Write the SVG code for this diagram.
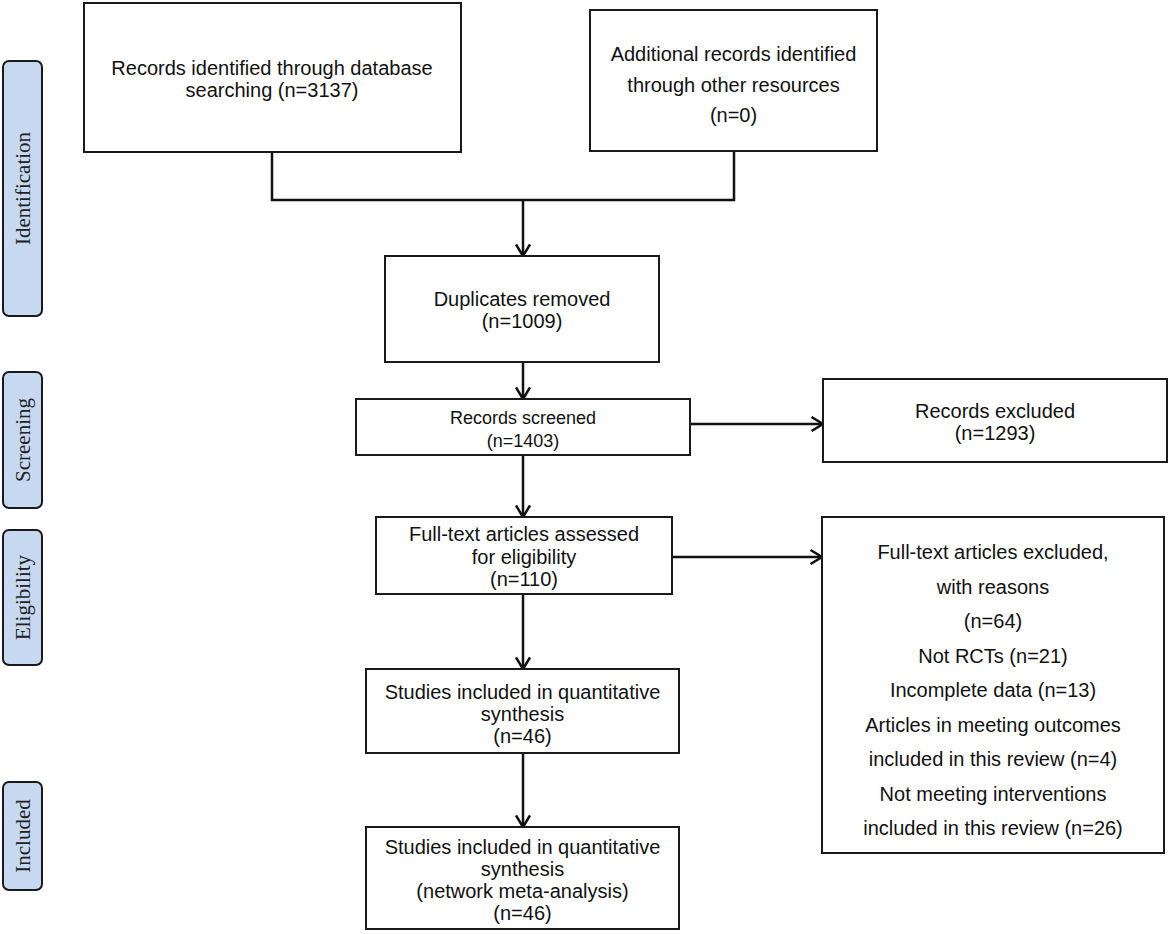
<svg xmlns="http://www.w3.org/2000/svg" width="1170" height="934" viewBox="0 0 1170 934">
  <style>
    .box { fill: #ffffff; stroke: #1a1a1a; stroke-width: 2; }
    .stage { fill: #c6d9f1; stroke: #1a1a1a; stroke-width: 2; }
    .t { font-family: "Liberation Sans", Arial, sans-serif; font-size: 20px; fill: #111; text-anchor: middle; }
    .ta { font-family: "Liberation Sans", Arial, sans-serif; font-size: 18px; fill: #111; text-anchor: middle; }
    .st { font-family: "Liberation Serif", "Times New Roman", serif; font-size: 21px; fill: #222; text-anchor: middle; }
    .ln { fill: none; stroke: #111; stroke-width: 2.5; }
  </style>
  <defs>
    <marker id="arr" viewBox="0 0 16 16" refX="13" refY="8" markerWidth="16" markerHeight="16" orient="auto" markerUnits="userSpaceOnUse">
      <path d="M1.5,1 L13,8 L1.5,15" fill="none" stroke="#111" stroke-width="2.5"/>
    </marker>
  </defs>
  <rect width="1170" height="934" fill="#ffffff"/>

  <g id="stage-identification">
    <rect class="stage" x="3" y="61" width="39" height="255" rx="6"/>
    <text class="st" transform="translate(30,188.5) rotate(-90)">Identification</text>
  </g>
  <g id="stage-screening">
    <rect class="stage" x="3" y="372" width="39" height="136" rx="6"/>
    <text class="st" transform="translate(30,440) rotate(-90)">Screening</text>
  </g>
  <g id="stage-eligibility">
    <rect class="stage" x="3" y="530" width="39" height="135" rx="6"/>
    <text class="st" transform="translate(30,597.5) rotate(-90)">Eligibility</text>
  </g>
  <g id="stage-included">
    <rect class="stage" x="3" y="782" width="39" height="108" rx="6"/>
    <text class="st" transform="translate(30,836) rotate(-90)">Included</text>
  </g>

  <g id="connectors">
    <polyline class="ln" points="272,152 272,200 734,200 734,151"/>
    <line class="ln" x1="523" y1="200" x2="523" y2="256" marker-end="url(#arr)"/>
    <line class="ln" x1="523" y1="362" x2="523" y2="399" marker-end="url(#arr)"/>
    <line class="ln" x1="523" y1="455" x2="523" y2="517" marker-end="url(#arr)"/>
    <line class="ln" x1="690" y1="424" x2="823" y2="424" marker-end="url(#arr)"/>
    <line class="ln" x1="672" y1="557" x2="822" y2="557" marker-end="url(#arr)"/>
    <line class="ln" x1="523" y1="594" x2="523" y2="669" marker-end="url(#arr)"/>
    <line class="ln" x1="523" y1="753" x2="523" y2="827" marker-end="url(#arr)"/>
  </g>

  <g id="node-database">
    <rect class="box" x="84" y="3" width="377" height="149"/>
    <text class="t" x="272" y="75">Records identified through database</text>
    <text class="t" x="272" y="97">searching (n=3137)</text>
  </g>
  <g id="node-additional">
    <rect class="box" x="590" y="10" width="287" height="141"/>
    <text class="t" x="733.5" y="61">Additional records identified</text>
    <text class="t" x="733.5" y="92">through other resources</text>
    <text class="t" x="733.5" y="122">(n=0)</text>
  </g>
  <g id="node-duplicates">
    <rect class="box" x="385" y="256" width="274" height="106"/>
    <text class="t" x="522" y="306">Duplicates removed</text>
    <text class="t" x="522" y="328">(n=1009)</text>
  </g>
  <g id="node-screened">
    <rect class="box" x="356" y="399" width="334" height="56"/>
    <text class="ta" x="523" y="424">Records screened</text>
    <text class="ta" x="523" y="447">(n=1403)</text>
  </g>
  <g id="node-records-excluded">
    <rect class="box" x="823" y="379" width="344" height="83"/>
    <text class="t" x="995" y="418">Records excluded</text>
    <text class="t" x="995" y="440">(n=1293)</text>
  </g>
  <g id="node-fulltext-assessed">
    <rect class="box" x="376" y="517" width="296" height="77"/>
    <text class="t" x="524" y="541">Full-text articles assessed</text>
    <text class="t" x="524" y="564">for eligibility</text>
    <text class="t" x="524" y="586">(n=110)</text>
  </g>
  <g id="node-fulltext-excluded">
    <rect class="box" x="822" y="517" width="342" height="336"/>
    <text class="t" x="993" y="559">Full-text articles excluded,</text>
    <text class="t" x="993" y="593.5">with reasons</text>
    <text class="t" x="993" y="628">(n=64)</text>
    <text class="t" x="993" y="662.5">Not RCTs (n=21)</text>
    <text class="t" x="993" y="697">Incomplete data (n=13)</text>
    <text class="t" x="993" y="731.5">Articles in meeting outcomes</text>
    <text class="t" x="993" y="766">included in this review (n=4)</text>
    <text class="t" x="993" y="800.5">Not meeting interventions</text>
    <text class="t" x="993" y="835">included in this review (n=26)</text>
  </g>
  <g id="node-quantitative">
    <rect class="box" x="366" y="669" width="313" height="84"/>
    <text class="t" x="522.5" y="699">Studies included in quantitative</text>
    <text class="t" x="522.5" y="721">synthesis</text>
    <text class="t" x="522.5" y="743">(n=46)</text>
  </g>
  <g id="node-network">
    <rect class="box" x="366" y="827" width="313" height="102"/>
    <text class="t" x="522.5" y="854">Studies included in quantitative</text>
    <text class="t" x="522.5" y="876">synthesis</text>
    <text class="t" x="522.5" y="898">(network meta-analysis)</text>
    <text class="t" x="522.5" y="920">(n=46)</text>
  </g>
</svg>
